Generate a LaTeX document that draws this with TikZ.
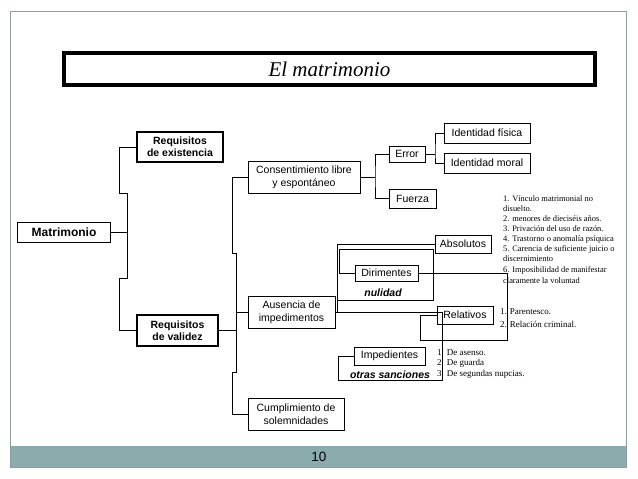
\documentclass[tikz,border=0pt]{standalone}
\usepackage{fontspec}
\setmainfont{Liberation Serif}
\setsansfont{Liberation Sans}
\definecolor{bandc}{RGB}{139,172,172}
\definecolor{framec}{RGB}{140,158,162}
\begin{document}
\begin{tikzpicture}[x=1pt,y=-1pt,
  box/.style={draw, line width=0.9pt, inner sep=0pt, align=center, font=\sffamily\fontsize{10.5}{13}\selectfont},
  bbox/.style={box, line width=2pt, font=\sffamily\bfseries\fontsize{10.5}{12}\selectfont},
  conn/.style={line width=0.9pt},
  lst/.style={anchor=west, inner sep=0pt, font=\fontsize{9}{10}\selectfont},
  lsta/.style={lst, font=\fontsize{8.4}{10}\selectfont},
  lbl/.style={inner sep=0pt, font=\sffamily\bfseries\itshape\fontsize{10.5}{12}\selectfont}]
\useasboundingbox (0,0) rectangle (638,479);
\fill[white] (0,0) rectangle (638,479);
% slide frame and band
\fill[bandc] (10.5,446) rectangle (626.5,467);
\draw[framec, line width=0.8pt] (10.5,11) rectangle (626.5,467);
\node[inner sep=0pt, font=\sffamily\fontsize{13.5}{15}\selectfont] (pg) at (319,456.5) {10};
% title
\node[draw, line width=4pt, minimum width=531, minimum height=32, inner sep=0pt,
      font=\itshape\fontsize{21}{24}\selectfont] (title) at (329.5,69) {El matrimonio};
% boxes
\node[box, line width=1.2pt, minimum width=93, minimum height=20,
      font=\sffamily\bfseries\fontsize{12}{14}\selectfont] (matr) at (64,232.5) {Matrimonio};
\node[bbox, minimum width=86, minimum height=30] (rexist) at (180,147) {Requisitos\\de existencia};
\node[bbox, minimum width=81, minimum height=31] (rval) at (177.5,330.5) {Requisitos\\de validez};
\node[box, minimum width=112, minimum height=32] (cons) at (304,177) {Consentimiento libre\\y espontáneo};
\node[box, minimum width=87, minimum height=32] (aus) at (291.5,312) {Ausencia de\\impedimentos};
\node[box, minimum width=96, minimum height=32] (cump) at (296,414) {Cumplimiento de\\solemnidades};
\node[box, minimum width=36, minimum height=16] (error) at (407,154) {Error};
\node[box, minimum width=47, minimum height=19] (fuerza) at (412.5,198.5) {Fuerza};
\node[box, minimum width=86, minimum height=20] (idf) at (487,133) {Identidad física};
\node[box, minimum width=86, minimum height=20] (idm) at (487,163) {Identidad moral};
\node[box, minimum width=56, minimum height=18] (abs) at (463,244) {Absolutos};
\node[box, minimum width=63, minimum height=16] (dir) at (386.5,273) {Dirimentes};
\node[box, minimum width=56, minimum height=18] (rel) at (465,315) {Relativos};
\node[box, minimum width=71, minimum height=18] (imp) at (389.5,356) {Impedientes};
\node[lbl] (nul) at (383,293) {nulidad};
\node[lbl] (otr) at (390,375) {otras sanciones};
% lists
\node[lsta] (a1) at (503,199) {1. Vínculo matrimonial no};
\node[lsta] (a2) at (503,209) {disuelto.};
\node[lsta] (a3) at (503,219) {2. menores de dieciséis años.};
\node[lsta] (a4) at (503,229) {3. Privación del uso de razón.};
\node[lsta] (a5) at (503,239) {4. Trastorno o anomalía psíquica};
\node[lsta] (a6) at (503,249) {5. Carencia de suficiente juicio o};
\node[lsta] (a7) at (503,259) {discernimiento};
\node[lsta] (a8) at (503,270) {6. Imposibilidad de manifestar};
\node[lsta] (a9) at (503,281) {claramente la voluntad};
\node[lst] (b1) at (500,312) {1. Parentesco.};
\node[lst] (b2) at (500,324) {2. Relación criminal.};
\node[lst] (c1) at (437,353) {1. De asenso.};
\node[lst] (c2) at (437,363) {2. De guarda};
\node[lst] (c3) at (437,374) {3. De segundas nupcias.};
% connectors
\coordinate (mj) at (127,232.5);
\draw[conn] (matr.east) -- (mj);
\draw[conn] (rexist.west) -| (119,193) -- (127,193) -- (127,278) -- (119,278) |- (rval.west);
\coordinate (vj) at (236,330.5);
\draw[conn] (rval.east) -- (vj);
\draw[conn] (cons.west) -| (232,253) -- (236,253) -- (236,372) -- (232,372) |- (cump.west);
\draw[conn] (236,312) -- (aus.west);
\draw[conn] (cons.east) -- (375,177);
\draw[conn] (error.west) -| (375,177) |- (fuerza.west);
\draw[conn] (error.east) -- (435,154);
\draw[conn] (idf.west) -| (435,154) |- (idm.west);
\draw[conn] (aus.east) -- (442,312) -- (442,380) -| (338,356) -- (imp.west);
\draw[conn] (abs.west) -| (337,312);
\draw[conn] (dir.west) -- (339,273) |- (433,249) |- (337,300);
\draw[conn] (dir.east) -- (507,273) |- (420,340) |- (rel.west);
\end{tikzpicture}
\end{document}
